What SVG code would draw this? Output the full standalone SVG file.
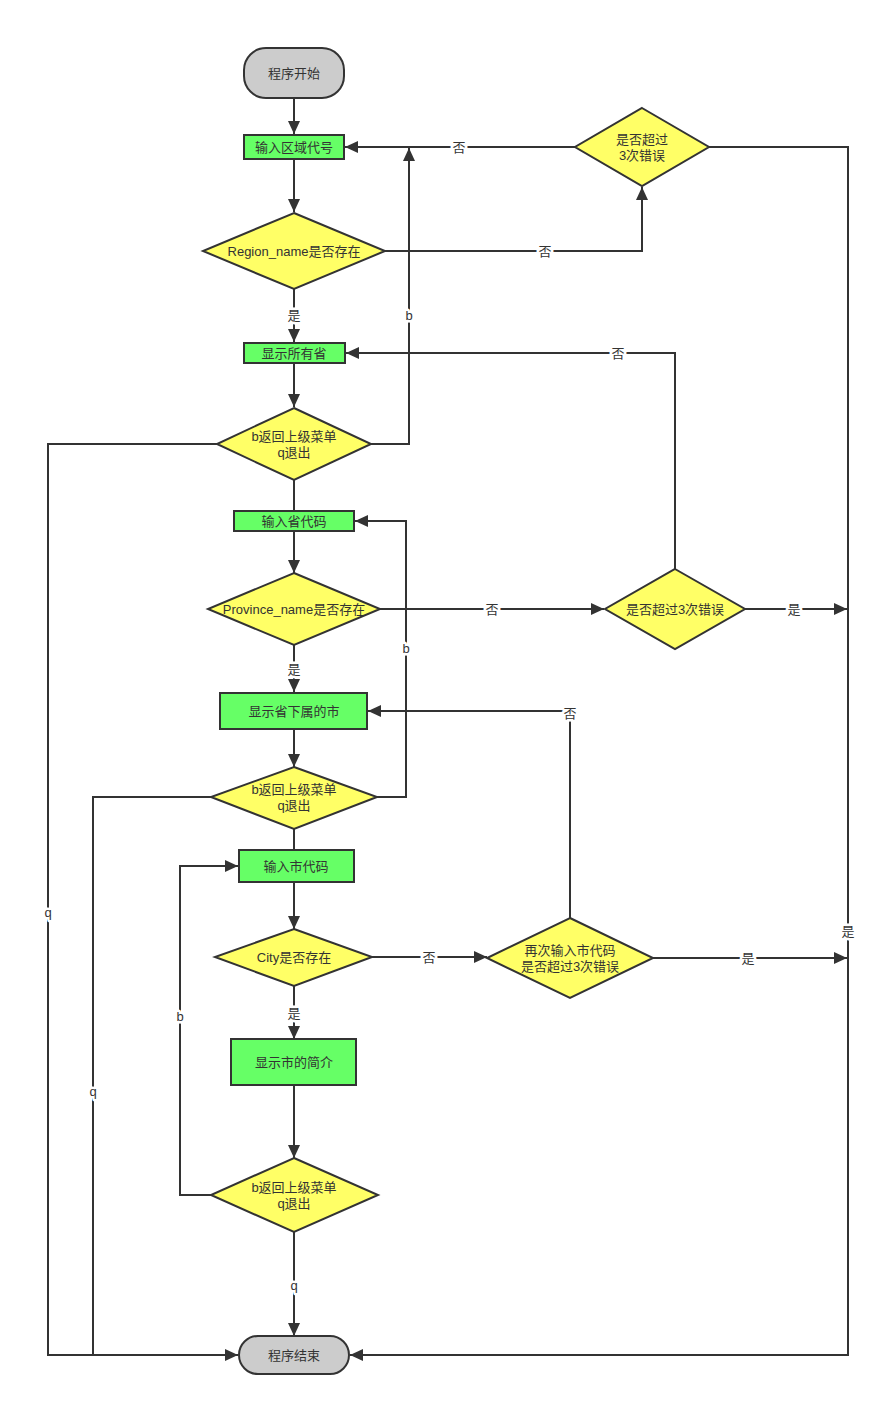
<svg xmlns="http://www.w3.org/2000/svg" width="880" height="1406" viewBox="0 0 880 1406">
<style>
text{font-family:"Liberation Sans","Noto Sans CJK SC",sans-serif;font-size:13px;fill:#333;text-anchor:middle;dominant-baseline:central}
.term{fill:#cccccc;stroke:#333;stroke-width:2}
.proc{fill:#66ff66;stroke:#333;stroke-width:2}
.dec{fill:#ffff66;stroke:#333;stroke-width:2}
.c{fill:none;stroke:#333;stroke-width:2}
.a{marker-end:url(#ah)}
.lbl{stroke:#fff;stroke-width:5;paint-order:stroke;stroke-linejoin:round}
</style>
<defs>
<marker id="ah" markerUnits="userSpaceOnUse" markerWidth="14" markerHeight="12" refX="13" refY="6" orient="auto">
<path d="M0,0 L13,6 L0,12 z" fill="#333"/>
</marker>
</defs>
<rect width="880" height="1406" fill="#fff"/>
<g id="connectors">
<path class="c a" d="M294,98 V134"/>
<path class="c a" d="M294,159 V212"/>
<path class="c a" d="M385,251 H642 V187"/>
<path class="c a" d="M575,147 H345"/>
<path class="c a" d="M709,147 H848 V1355 H350"/>
<path class="c a" d="M294,289 V342"/>
<path class="c a" d="M294,363 V407"/>
<path class="c a" d="M371,444 H409 V148"/>
<path class="c a" d="M217,444 H48 V1355 H238"/>
<path class="c" d="M294,480 V511"/>
<path class="c a" d="M294,531 V573"/>
<path class="c a" d="M380,609 H604"/>
<path class="c a" d="M675,569 V353 H346"/>
<path class="c a" d="M745,609 H847"/>
<path class="c a" d="M294,645 V692"/>
<path class="c a" d="M294,729 V767"/>
<path class="c a" d="M377,797 H406 V521 H355"/>
<path class="c" d="M211,797 H93 V1355"/>
<path class="c" d="M294,829 V850"/>
<path class="c a" d="M294,882 V929"/>
<path class="c a" d="M372,957 H487"/>
<path class="c a" d="M570,918 V711 H368"/>
<path class="c a" d="M653,958 H847"/>
<path class="c a" d="M294,986 V1039"/>
<path class="c a" d="M294,1085 V1158"/>
<path class="c a" d="M211,1195 H180 V866 H238"/>
<path class="c a" d="M294,1232 V1336"/>
<text class="lbl" x="545" y="251">否</text>
<text class="lbl" x="459" y="147">否</text>
<text class="lbl" x="848" y="931">是</text>
<text class="lbl" x="294" y="315">是</text>
<text class="lbl" x="409" y="315">b</text>
<text class="lbl" x="48" y="912">q</text>
<text class="lbl" x="492" y="609">否</text>
<text class="lbl" x="618" y="353">否</text>
<text class="lbl" x="794" y="609">是</text>
<text class="lbl" x="294" y="669">是</text>
<text class="lbl" x="406" y="648">b</text>
<text class="lbl" x="93" y="1091">q</text>
<text class="lbl" x="429" y="957">否</text>
<text class="lbl" x="570" y="713">否</text>
<text class="lbl" x="748" y="958">是</text>
<text class="lbl" x="294" y="1013">是</text>
<text class="lbl" x="180" y="1016">b</text>
<text class="lbl" x="294" y="1285">q</text>
</g>
<g id="start"><rect class="term" x="244" y="48" width="100" height="50" rx="22"/><text x="294" y="73">程序开始</text></g>
<g id="inputRegion"><rect class="proc" x="244" y="135" width="100" height="24"/><text x="294" y="147">输入区域代号</text></g>
<g id="regionExists"><polygon class="dec" points="294,213 385,251 294,289 203,251"/><text x="294" y="251">Region_name是否存在</text></g>
<g id="errCheck1"><polygon class="dec" points="642,108 709,147 642,186 575,147"/><text x="642" y="139">是否超过</text><text x="642" y="155">3次错误</text></g>
<g id="showProvinces"><rect class="proc" x="244" y="343" width="101" height="20"/><text x="294" y="353">显示所有省</text></g>
<g id="menu1"><polygon class="dec" points="294,408 371,444 294,480 217,444"/><text x="294" y="436">b返回上级菜单</text><text x="294" y="452">q退出</text></g>
<g id="inputProvince"><rect class="proc" x="234" y="511" width="120" height="20"/><text x="294" y="521">输入省代码</text></g>
<g id="provinceExists"><polygon class="dec" points="294,573 380,609 294,645 208,609"/><text x="294" y="609">Province_name是否存在</text></g>
<g id="errCheck2"><polygon class="dec" points="675,569 745,609 675,649 605,609"/><text x="675" y="609">是否超过3次错误</text></g>
<g id="showCities"><rect class="proc" x="220" y="693" width="147" height="36"/><text x="294" y="711">显示省下属的市</text></g>
<g id="menu2"><polygon class="dec" points="294,767 377,797 294,829 211,797"/><text x="294" y="789">b返回上级菜单</text><text x="294" y="805">q退出</text></g>
<g id="inputCity"><rect class="proc" x="239" y="850" width="115" height="32"/><text x="296" y="866">输入市代码</text></g>
<g id="cityExists"><polygon class="dec" points="294,929 372,957 294,986 215,957"/><text x="294" y="957">City是否存在</text></g>
<g id="errCheck3"><polygon class="dec" points="570,918 653,958 570,998 487,958"/><text x="570" y="950">再次输入市代码</text><text x="570" y="966">是否超过3次错误</text></g>
<g id="showIntro"><rect class="proc" x="231" y="1039" width="125" height="46"/><text x="294" y="1062">显示市的简介</text></g>
<g id="menu3"><polygon class="dec" points="294,1158 378,1195 294,1232 211,1195"/><text x="294" y="1187">b返回上级菜单</text><text x="294" y="1203">q退出</text></g>
<g id="end"><rect class="term" x="239" y="1336" width="110" height="38" rx="19"/><text x="294" y="1355">程序结束</text></g>
</svg>
